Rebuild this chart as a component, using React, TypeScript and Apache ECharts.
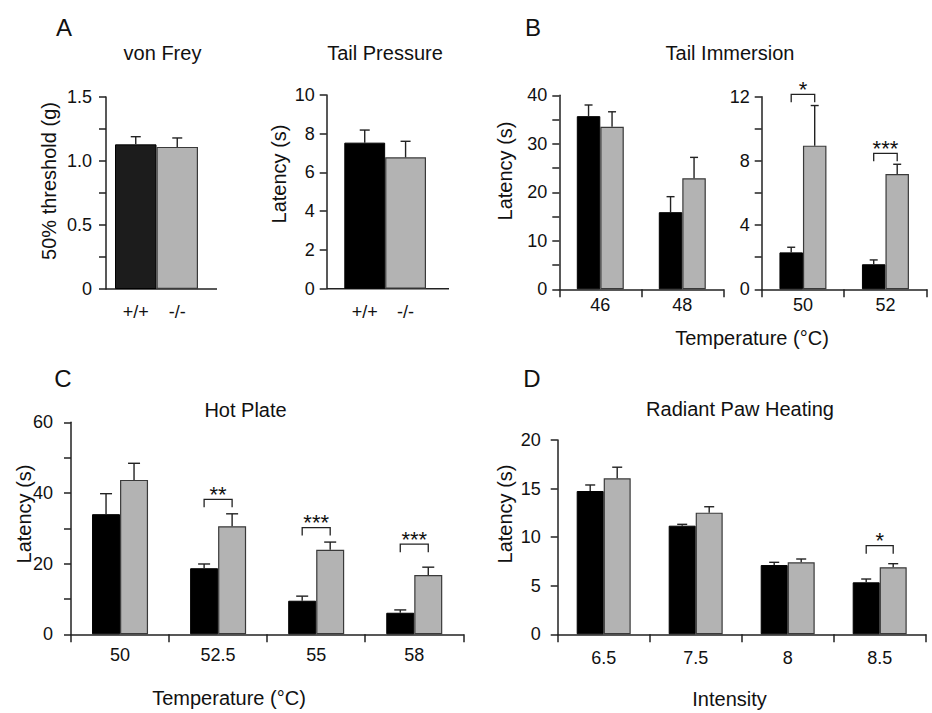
import React, { useEffect, useRef } from "react";
import * as echarts from "echarts";

// ---------------- data ----------------
const VF_CATS = ["+/+", "-/-"];
const VF_MEAN = [1.13, 1.11];
const VF_SEM = [0.06, 0.07];

const TP_CATS = ["+/+", "-/-"];
const TP_MEAN = [7.54, 6.78];
const TP_SEM = [0.65, 0.83];

const TI_LOW_CATS = ["46", "48"];
const TI_LOW_WT = [35.7, 15.9];
const TI_LOW_WT_SEM = [2.3, 3.2];
const TI_LOW_KO = [33.5, 22.9];
const TI_LOW_KO_SEM = [3.1, 4.3];

const TI_HIGH_CATS = ["50", "52"];
const TI_HIGH_WT = [2.3, 1.56];
const TI_HIGH_WT_SEM = [0.32, 0.27];
const TI_HIGH_KO = [8.95, 7.18];
const TI_HIGH_KO_SEM = [2.5, 0.61];
const TI_HIGH_SIG_CAT = [0, 1];
const TI_HIGH_SIG_Y = [12.15, 8.47];
const TI_HIGH_SIG_TXT = ["*", "***"];

const HP_CATS = ["50", "52.5", "55", "58"];
const HP_WT = [34.0, 18.7, 9.5, 6.1];
const HP_WT_SEM = [5.8, 1.2, 1.3, 0.8];
const HP_KO = [43.7, 30.6, 23.9, 16.8];
const HP_KO_SEM = [4.7, 3.5, 2.2, 2.2];
const HP_SIG_CAT = [1, 2, 3];
const HP_SIG_Y = [38.2, 30.2, 25.5];
const HP_SIG_TXT = ["**", "***", "***"];

const RP_CATS = ["6.5", "7.5", "8", "8.5"];
const RP_WT = [14.75, 11.18, 7.13, 5.35];
const RP_WT_SEM = [0.62, 0.14, 0.28, 0.34];
const RP_KO = [16.06, 12.52, 7.41, 6.9];
const RP_KO_SEM = [1.14, 0.61, 0.34, 0.37];
const RP_SIG_CAT = [3];
const RP_SIG_Y = [9.12];
const RP_SIG_TXT = ["*"];

// ---------------- styles ----------------
const BLACK = "#000000";
const DARK = "#1c1c1c";
const GRAY = "#b3b3b3";
const GRAY_BORDER = "#3a3a3a";
const AX = "#222222";
const TXT = "#111111";
const FONT = "'Liberation Sans', Arial, Helvetica, sans-serif";

function errSeries(gi: number, means: number[], sems: number[], offset: number, cap: number) {
  return {
    type: "custom",
    xAxisIndex: gi,
    yAxisIndex: gi,
    clip: false,
    z: 5,
    silent: true,
    data: means.map((m, i) => [i, m, sems[i]]),
    encode: { x: 0, y: 1 },
    renderItem: (params: any, api: any) => {
      const ci = api.value(0);
      const m = api.value(1);
      const s = api.value(2);
      const p0 = api.coord([ci, m]);
      const p1 = api.coord([ci, m + s]);
      const x = p0[0] + offset;
      const st = { stroke: AX, lineWidth: 1.4, fill: "none" };
      return {
        type: "group",
        children: [
          { type: "line", shape: { x1: x, y1: p0[1], x2: x, y2: p1[1] }, style: st },
          { type: "line", shape: { x1: x - cap, y1: p1[1], x2: x + cap, y2: p1[1] }, style: st },
        ],
      };
    },
  };
}

function sigSeries(gi: number, cats: number[], ys: number[], txts: string[], half: number) {
  return {
    type: "custom",
    xAxisIndex: gi,
    yAxisIndex: gi,
    clip: false,
    z: 6,
    silent: true,
    data: cats.map((c, i) => [c, ys[i]]),
    encode: { x: 0, y: 1 },
    renderItem: (params: any, api: any) => {
      const p = api.coord([api.value(0), api.value(1)]);
      const x1 = p[0] - half;
      const x2 = p[0] + half;
      const y = p[1];
      return {
        type: "group",
        children: [
          {
            type: "polyline",
            shape: { points: [[x1, y + 8], [x1, y], [x2, y], [x2, y + 8]] },
            style: { stroke: AX, lineWidth: 1.3, fill: "none" },
          },
          {
            type: "text",
            x: p[0],
            y: y - 5,
            style: {
              text: txts[params.dataIndex],
              fill: TXT,
              fontSize: 22,
              fontFamily: FONT,
              align: "center",
              verticalAlign: "middle",
            },
          },
        ],
      };
    },
  };
}

function barPair(gi: number, wt: number[], ko: number[], w: number) {
  return [
    {
      type: "bar",
      xAxisIndex: gi,
      yAxisIndex: gi,
      data: wt,
      barWidth: w,
      barGap: "0%",
      itemStyle: { color: BLACK, borderColor: BLACK, borderWidth: 1 },
      z: 2,
    },
    {
      type: "bar",
      xAxisIndex: gi,
      yAxisIndex: gi,
      data: ko,
      barWidth: w,
      barGap: "0%",
      itemStyle: { color: GRAY, borderColor: GRAY_BORDER, borderWidth: 1.2 },
      z: 2,
    },
  ];
}

const axisLineStyle = { lineStyle: { color: AX, width: 1.5 } };
const labelBase = { color: TXT, fontSize: 18, fontFamily: FONT };

function yAxis(gi: number, max: number, interval: number, minor: boolean, margin: number, offset = 0, fmt?: (v: number) => string) {
  return {
    type: "value",
    gridIndex: gi,
    min: 0,
    max,
    interval,
    offset,
    axisLine: { show: true, ...axisLineStyle },
    axisTick: { show: true, length: 7, inside: false, ...axisLineStyle },
    minorTick: { show: minor, splitNumber: 2, length: 7, lineStyle: { color: AX, width: 1.5 } },
    splitLine: { show: false },
    minorSplitLine: { show: false },
    axisLabel: { ...labelBase, margin, formatter: fmt },
  };
}

function xAxis(gi: number, cats: string[], ticks: boolean, margin: number, line = true) {
  return {
    type: "category",
    gridIndex: gi,
    data: cats,
    boundaryGap: true,
    axisLine: { show: line, ...axisLineStyle },
    axisTick: { show: ticks, length: 8, inside: false, alignWithLabel: false, ...axisLineStyle },
    axisLabel: { ...labelBase, margin, interval: 0 },
    splitLine: { show: false },
  };
}

function txt(text: string, x: number, y: number, size: number, rotate = 0) {
  return {
    type: "text",
    x,
    y,
    rotation: rotate,
    style: { text, fill: TXT, fontSize: size, fontFamily: FONT, align: "center", verticalAlign: "middle" },
  };
}

export default function App() {
  const ref = useRef<HTMLDivElement>(null);
  useEffect(() => {
    if (!ref.current) return;
    const chart = echarts.init(ref.current, undefined, { renderer: "svg" });
    const grids = [
      { left: 115, top: 97, width: 83, height: 192 },
      { left: 344.3, top: 95, width: 81.7, height: 193.7 },
      { left: 559.3, top: 95.3, width: 164, height: 194 },
      { left: 761.7, top: 96.7, width: 165, height: 192.6 },
      { left: 71, top: 422.3, width: 392.3, height: 212 },
      { left: 557.7, top: 440, width: 368, height: 194.3 },
    ];
    const option: any = {
      animation: false,
      backgroundColor: "#ffffff",
      grid: grids.map((g) => ({ ...g, containLabel: false })),
      xAxis: [
        xAxis(0, VF_CATS, false, 14, false),
        xAxis(1, TP_CATS, false, 14, false),
        xAxis(2, TI_LOW_CATS, true, 7),
        xAxis(3, TI_HIGH_CATS, true, 7),
        xAxis(4, HP_CATS, true, 12),
        xAxis(5, RP_CATS, true, 15),
      ],
      yAxis: [
        yAxis(0, 1.5, 0.5, true, 14, 9, (v: number) => (v === 0 ? "0" : v.toFixed(1))),
        yAxis(1, 10, 2, false, 12, 17.6),
        yAxis(2, 40, 10, true, 12),
        yAxis(3, 12, 4, true, 12),
        yAxis(4, 60, 20, true, 18),
        yAxis(5, 20, 5, false, 17),
      ],
      series: [
        {
          type: "bar",
          xAxisIndex: 0,
          yAxisIndex: 0,
          barCategoryGap: "0%",
          data: VF_MEAN.map((v, i) => ({
            value: v,
            itemStyle: i === 0
              ? { color: DARK, borderColor: BLACK, borderWidth: 1 }
              : { color: GRAY, borderColor: GRAY_BORDER, borderWidth: 1.2 },
          })),
          z: 2,
        },
        errSeries(0, VF_MEAN, VF_SEM, 0, 5),
        {
          type: "bar",
          xAxisIndex: 1,
          yAxisIndex: 1,
          barCategoryGap: "0%",
          data: TP_MEAN.map((v, i) => ({
            value: v,
            itemStyle: i === 0
              ? { color: BLACK, borderColor: BLACK, borderWidth: 1 }
              : { color: GRAY, borderColor: GRAY_BORDER, borderWidth: 1.2 },
          })),
          z: 2,
        },
        errSeries(1, TP_MEAN, TP_SEM, 0, 5),
        ...barPair(2, TI_LOW_WT, TI_LOW_KO, 23.5),
        errSeries(2, TI_LOW_WT, TI_LOW_WT_SEM, -11.75, 4),
        errSeries(2, TI_LOW_KO, TI_LOW_KO_SEM, 11.75, 4),
        ...barPair(3, TI_HIGH_WT, TI_HIGH_KO, 23.5),
        errSeries(3, TI_HIGH_WT, TI_HIGH_WT_SEM, -11.75, 4),
        errSeries(3, TI_HIGH_KO, TI_HIGH_KO_SEM, 11.75, 4),
        sigSeries(3, TI_HIGH_SIG_CAT, TI_HIGH_SIG_Y, TI_HIGH_SIG_TXT, 11.75),
        ...barPair(4, HP_WT, HP_KO, 28),
        errSeries(4, HP_WT, HP_WT_SEM, -14, 6),
        errSeries(4, HP_KO, HP_KO_SEM, 14, 6),
        sigSeries(4, HP_SIG_CAT, HP_SIG_Y, HP_SIG_TXT, 14),
        ...barPair(5, RP_WT, RP_KO, 27),
        errSeries(5, RP_WT, RP_WT_SEM, -13.5, 5),
        errSeries(5, RP_KO, RP_KO_SEM, 13.5, 5),
        sigSeries(5, RP_SIG_CAT, RP_SIG_Y, RP_SIG_TXT, 13.5),
      ],
      graphic: [
        // baselines of panel A (extend beyond the bars)
        { type: "line", shape: { x1: 106, y1: 289, x2: 217, y2: 289 }, style: { stroke: AX, lineWidth: 1.5 } },
        { type: "line", shape: { x1: 326.7, y1: 288.7, x2: 449, y2: 288.7 }, style: { stroke: AX, lineWidth: 1.5 } },
        // panel letters
        txt("A", 64, 27, 24),
        txt("B", 533, 27, 24),
        txt("C", 63, 378, 24),
        txt("D", 532, 378, 24),
        // titles
        txt("von Frey", 162.5, 53, 20),
        txt("Tail Pressure", 385, 53, 20),
        txt("Tail Immersion", 730, 53, 20),
        txt("Hot Plate", 245.5, 410, 20),
        txt("Radiant Paw Heating", 740, 409, 20),
        // axis names
        txt("50% threshold (g)", 49, 181, 20, Math.PI / 2),
        txt("Latency (s)", 279, 174, 20, Math.PI / 2),
        txt("Latency (s)", 505, 171, 20, Math.PI / 2),
        txt("Latency (s)", 24, 514, 20, Math.PI / 2),
        txt("Latency (s)", 505, 514, 20, Math.PI / 2),
        txt("Temperature (°C)", 752, 338, 20),
        txt("Temperature (°C)", 229, 698, 20),
        txt("Intensity", 729.5, 699, 20),
      ],
    };
    chart.setOption(option);
    return () => chart.dispose();
  }, []);
  return (
    <div
      ref={ref}
      style={{ position: "fixed", left: 0, top: 0, width: 932, height: 713, background: "#fff" }}
    />
  );
}
